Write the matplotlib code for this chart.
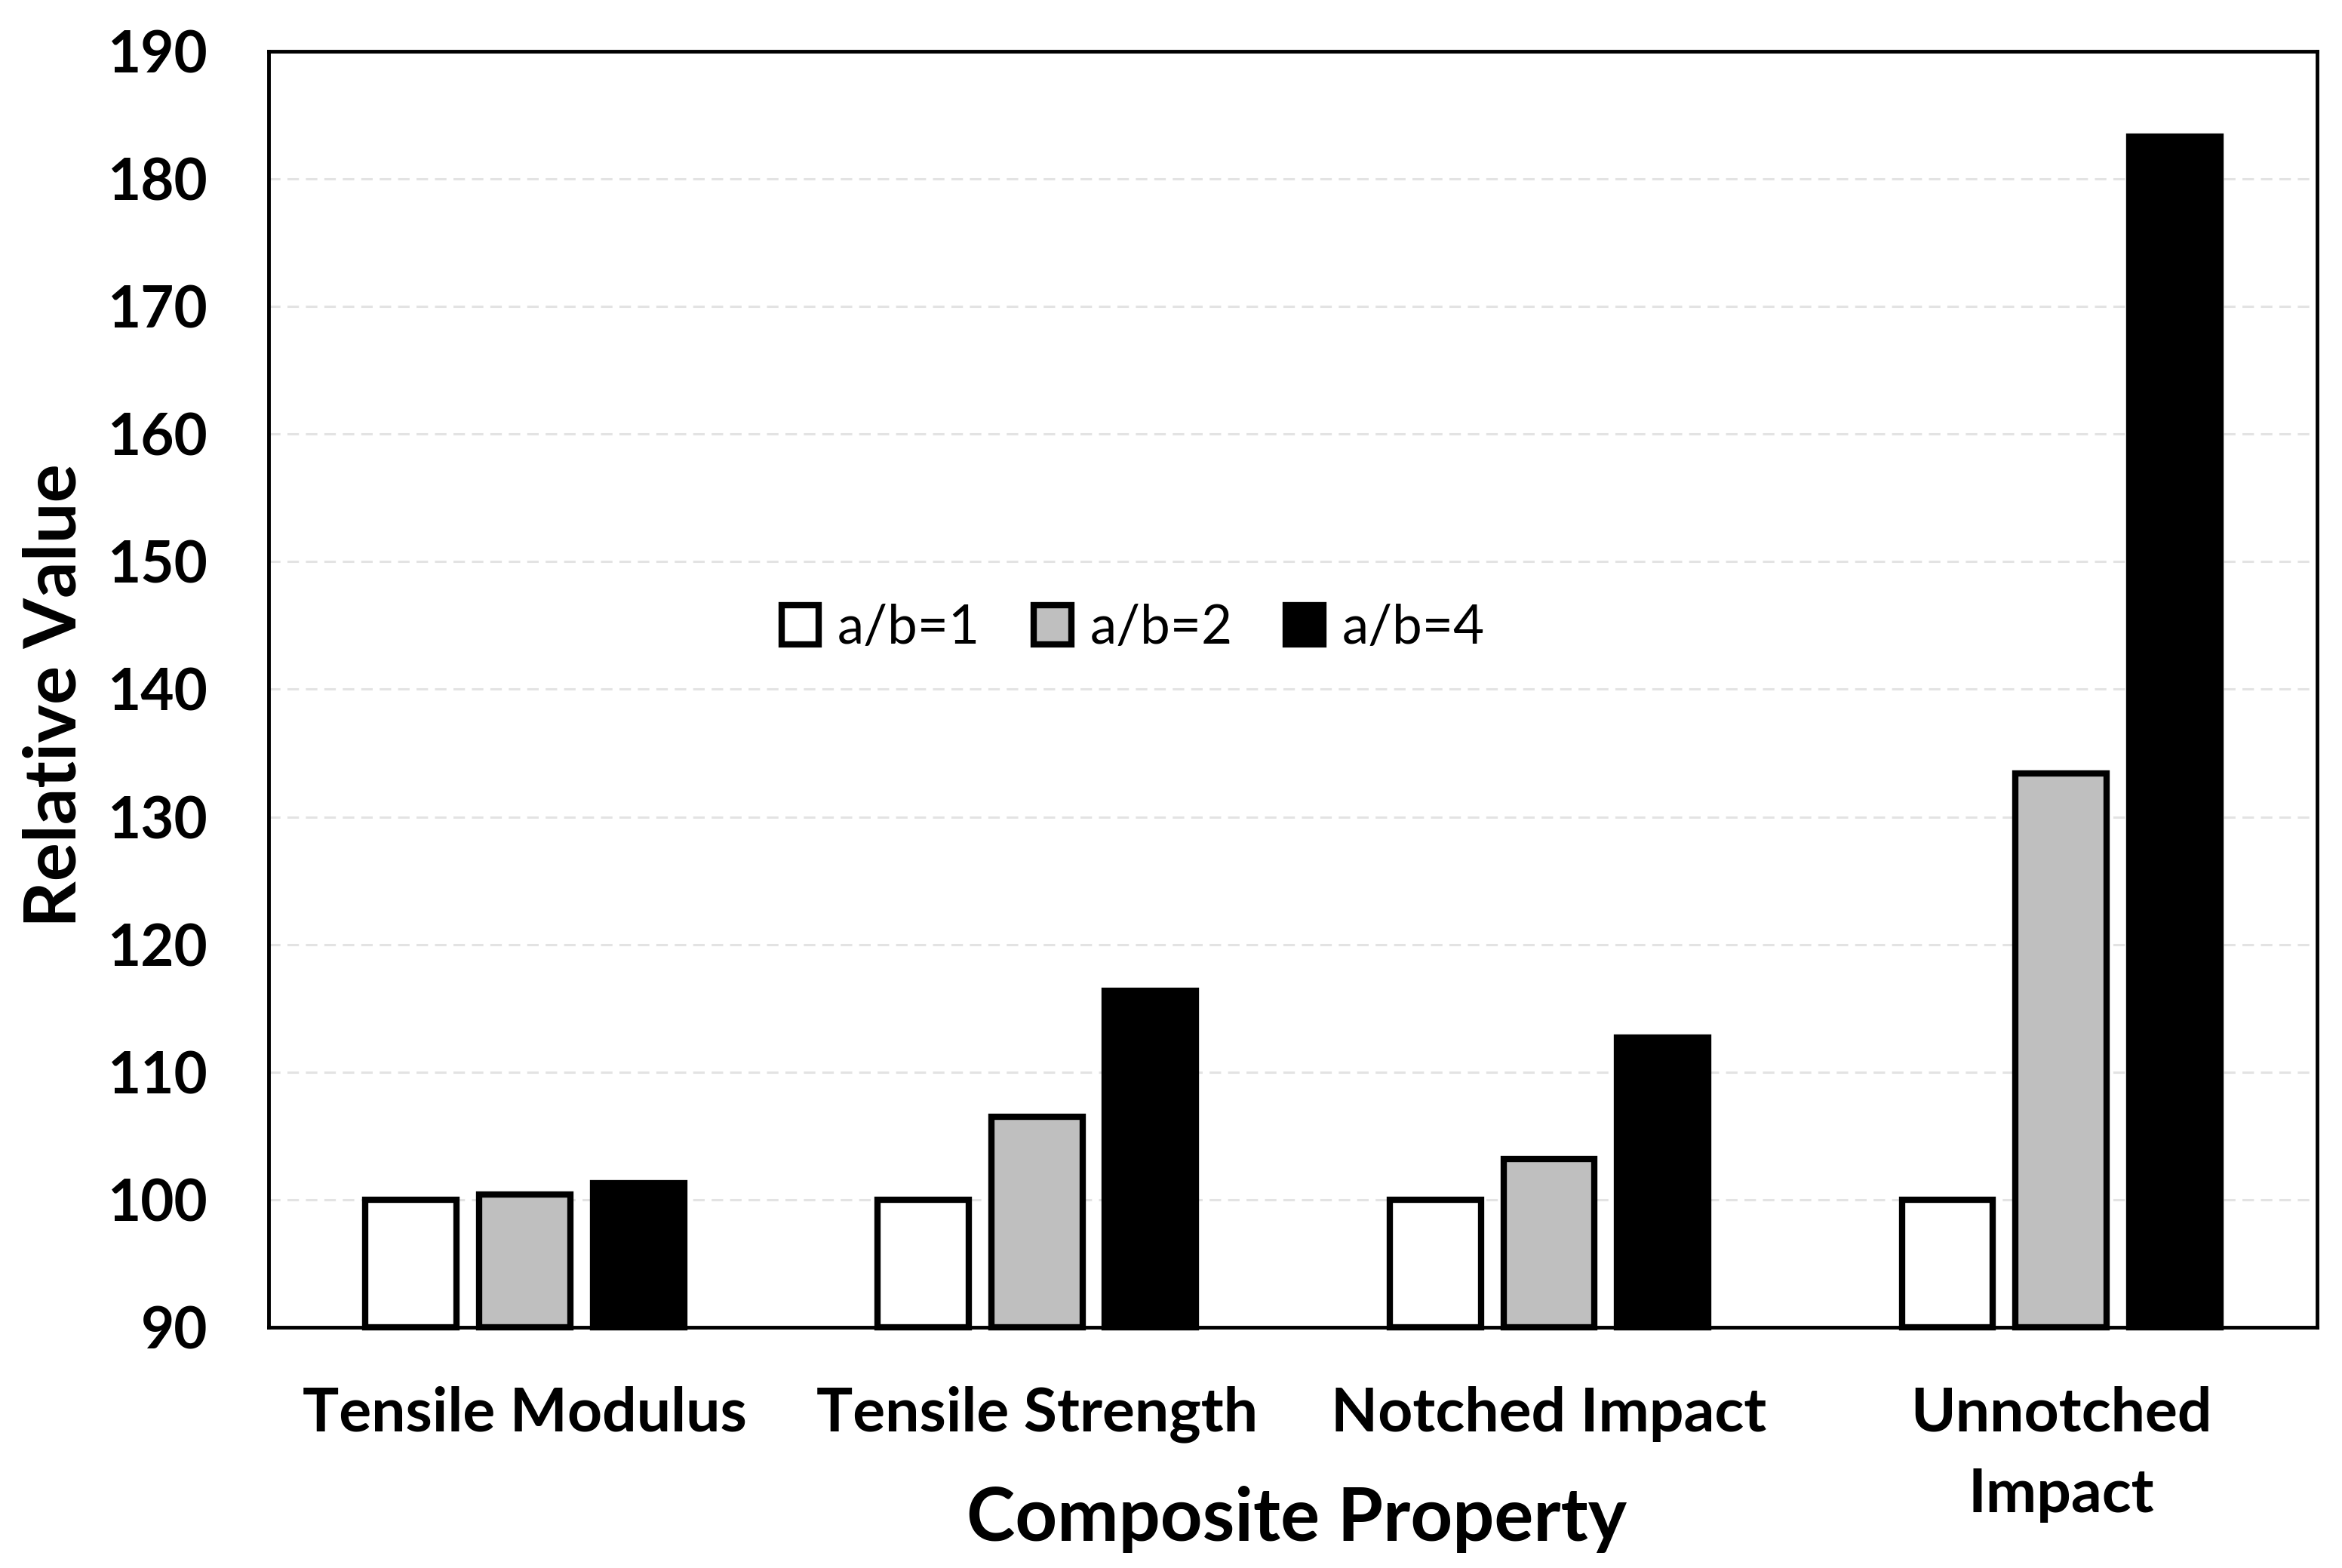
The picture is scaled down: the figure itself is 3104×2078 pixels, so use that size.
import matplotlib.pyplot as plt
import numpy as np

plt.rcParams['font.family'] = ['Lato', 'DejaVu Sans']

# data
categories = ['Tensile Modulus', 'Tensile Strength', 'Notched Impact', 'Unnotched\nImpact']
ab1 = [100, 100, 100, 100]
ab2 = [100.4, 106.5, 103.2, 133.4]
ab4 = [101.3, 116.4, 112.7, 183.3]
series_labels = ['a/b=1', 'a/b=2', 'a/b=4']
series_colors = ['white', '#bfbfbf', 'black']

fig = plt.figure(figsize=(31.04, 20.78), dpi=100)
ax = fig.add_axes([0.1147, 0.1535, 0.8747, 0.8138])

x = np.arange(len(categories))
width = 0.178
offset = 0.222
for i, (vals, lab, col) in enumerate(zip([ab1, ab2, ab4], series_labels, series_colors)):
    ax.bar(x + (i - 1) * offset, np.array(vals) - 90, width, bottom=90,
           color=col, edgecolor='black', linewidth=6, label=lab, zorder=3, clip_on=False)

ax.set_xlim(-0.5, 3.5)
ax.set_ylim(90, 190)
ax.set_yticks(np.arange(90, 191, 10))
ax.set_xticks(x)
ax.set_xticklabels(categories)

ax.yaxis.grid(True, color='#e3e3e3', linestyle=(0, (5, 3)), linewidth=2.2, zorder=0)
ax.set_axisbelow(True)

for sp in ax.spines.values():
    sp.set_linewidth(3.5)
    sp.set_color('black')

ax.tick_params(axis='y', length=0, pad=58, labelsize=55)
ax.tick_params(axis='x', length=0, pad=56, labelsize=58)
for t in ax.get_yticklabels() + ax.get_xticklabels():
    t.set_fontweight('bold')
for t in ax.get_xticklabels():
    t.set_linespacing(1.55)

fig.text(0.0235, 0.5565, 'Relative Value', rotation=90, ha='center', va='center',
         fontsize=69, fontweight='bold')
fig.text(0.5535, 0.031, 'Composite Property', ha='center', va='center',
         fontsize=70, fontweight='bold')

ax.legend(loc='center', bbox_to_anchor=(0.422, 0.548), ncol=3, frameon=False,
          fontsize=51, handlelength=0.7, handleheight=0.75, handletextpad=0.35,
          columnspacing=1.0)

fig.savefig('out.png', dpi=100, facecolor='white')
